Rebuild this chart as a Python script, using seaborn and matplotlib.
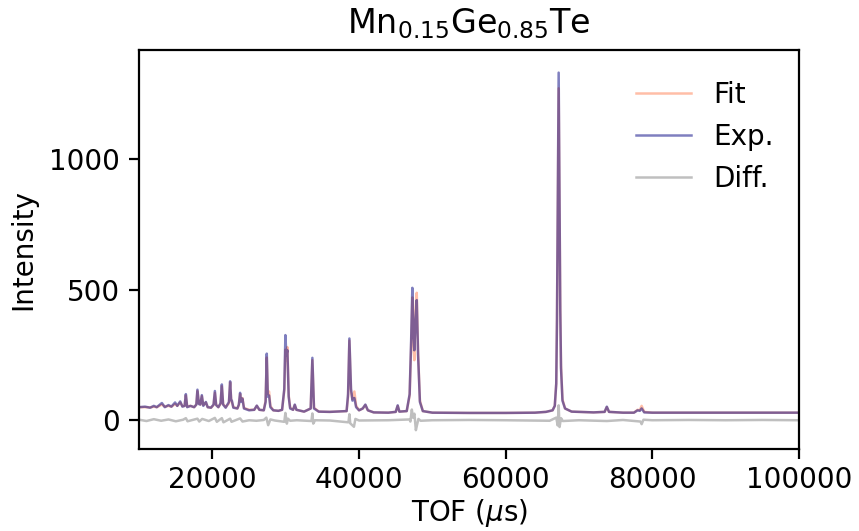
import matplotlib
matplotlib.use("Agg")
import matplotlib.pyplot as plt
import seaborn as sns

# TOF grid (us) shared by the experimental and fitted patterns
tof = [10000, 10800, 11500, 12000, 12400, 13100, 13500, 14000, 14400, 14900,
       15200, 15600, 15900, 16200, 16370, 16550, 17000, 17500, 17800, 17950,
       18150, 18350, 18550, 18750, 19100, 19350, 19800, 20150, 20330, 20500,
       20800, 21100, 21280, 21450, 21800, 22250, 22410, 22550, 22650, 22850,
       23400, 23600, 23770, 23900, 24090, 24300, 25000, 25700, 26050, 26400,
       27000, 27250, 27410, 27550, 27720, 27900, 28300, 29000, 29500, 29800,
       29950, 30080, 30220, 30400, 30600, 31000, 31230, 31450, 32500, 33400,
       33630, 33850, 34500, 36000, 38300, 38500, 38680, 38900, 39100, 39360,
       39600, 40000, 40500, 40860, 41200, 42000, 44000, 45000, 45270, 45500,
       46500, 46900, 47100, 47270, 47420, 47540, 47700, 47870, 48050, 48300,
       48700, 50000, 55000, 60000, 64000, 65500, 66400, 66700, 66900, 67000,
       67100, 67230, 67350, 67450, 67550, 67750, 68100, 69000, 72000, 73500,
       73800, 74100, 76000, 77500, 78000, 78300, 78550, 78900, 80000, 85000,
       90000, 95000, 100000]

exp_int = [50, 52, 48, 55, 50, 66, 50, 58, 52, 68,
           55, 72, 52, 55, 100, 50, 55, 50, 60, 117,
           62, 60, 96, 55, 70, 50, 48, 60, 112, 58,
           50, 65, 137, 60, 48, 70, 149, 77, 75, 48,
           45, 60, 105, 70, 83, 45, 38, 40, 56, 40,
           38, 70, 255, 90, 95, 50, 38, 36, 40, 120,
           326, 250, 268, 90, 45, 40, 60, 40, 33, 45,
           239, 45, 33, 32, 35, 100, 313, 120, 75, 85,
           50, 38, 45, 60, 38, 30, 29, 32, 57, 33,
           35, 100, 300, 507, 330, 268, 380, 460, 250, 70,
           35, 29, 28, 28, 29, 32, 38, 55, 140, 380,
           800, 1331, 800, 420, 200, 75, 45, 33, 30, 32,
           52, 32, 29, 29, 38, 36, 45, 30, 29, 29,
           29, 29, 29]

fit_int = [50, 50, 49, 52, 50, 60, 52, 55, 52, 62,
           55, 68, 54, 55, 95, 52, 55, 50, 60, 112,
           65, 60, 92, 58, 68, 50, 48, 58, 105, 60,
           50, 62, 130, 62, 50, 65, 145, 80, 70, 50,
           45, 58, 100, 75, 85, 47, 40, 40, 55, 40,
           38, 75, 240, 100, 110, 55, 38, 36, 40, 115,
           270, 230, 280, 95, 48, 40, 58, 40, 33, 45,
           230, 48, 33, 32, 35, 90, 305, 110, 80, 110,
           55, 38, 45, 58, 38, 30, 29, 32, 55, 33,
           35, 95, 280, 470, 300, 230, 420, 488, 260, 75,
           35, 29, 28, 28, 29, 32, 38, 55, 140, 380,
           760, 1271, 800, 430, 210, 80, 45, 33, 30, 32,
           50, 32, 29, 29, 40, 38, 55, 32, 29, 29,
           29, 29, 29]

# difference curve (Exp. - Fit)
diff_tof = [10000, 11000, 12000, 13000, 14000, 15000, 16000, 16370, 16600, 17950,
            18200, 18600, 19500, 20330, 20600, 21280, 21500, 22410, 22600, 23770,
            24100, 25000, 26000, 27000, 27350, 27600, 27900, 28500, 29800, 29950,
            30150, 30300, 30600, 31500, 33500, 33630, 33750, 34000, 36000, 38550,
            38680, 38800, 39300, 39500, 40000, 44000, 46900, 47000, 47200, 47350,
            47550, 47750, 47900, 48100, 48400, 50000, 55000, 60000, 66000, 66900,
            67100, 67230, 67350, 67550, 67800, 70000, 73800, 76000, 78400, 78550,
            78800, 80000, 85000, 90000, 95000, 100000]
diff_int = [2, -3, 4, -2, 3, -4, 2, 8, -4, 6,
            -5, 5, -3, 9, -6, 8, -8, 6, -6, 7,
            -5, 0, -2, 1, 10, -19, 3, -1, -6, 28,
            -13, 6, -2, 0, -3, 26, -13, 0, -1, -8,
            23, -12, -25, 5, -1, 0, 3, -5, 41, 10,
            25, -38, -19, 5, -2, 0, 1, 0, -2, 10,
            -20, 57, -26, 8, -3, 0, -3, 1, -5, -15,
            2, 0, 1, 0, 1, 0]

fig, ax = plt.subplots(figsize=(4.295, 2.655), dpi=200)
fig.subplots_adjust(left=0.162, right=0.930, top=0.906, bottom=0.154)

sns.lineplot(x=tof, y=fit_int, color="coral", alpha=0.5, lw=0.9,
             label="Fit", estimator=None, ax=ax)
sns.lineplot(x=tof, y=exp_int, color="navy", alpha=0.5, lw=0.9,
             label="Exp.", estimator=None, ax=ax)
sns.lineplot(x=diff_tof, y=diff_int, color="grey", alpha=0.5, lw=0.9,
             label="Diff.", estimator=None, ax=ax)

ax.set_xlim(10000, 100000)
ax.set_ylim(-111, 1418)
ax.set_yticks([0, 500, 1000])
ax.tick_params(axis="x", pad=2.5)
ax.set_xlabel(r"TOF ($\mu$s)", labelpad=1)
ax.set_ylabel("Intensity")
ax.set_title(r"Mn$_{0.15}$Ge$_{0.85}$Te")
ax.legend(loc="upper right", frameon=False, bbox_to_anchor=(1.0, 0.985))

fig.savefig("out.png", dpi=200)
